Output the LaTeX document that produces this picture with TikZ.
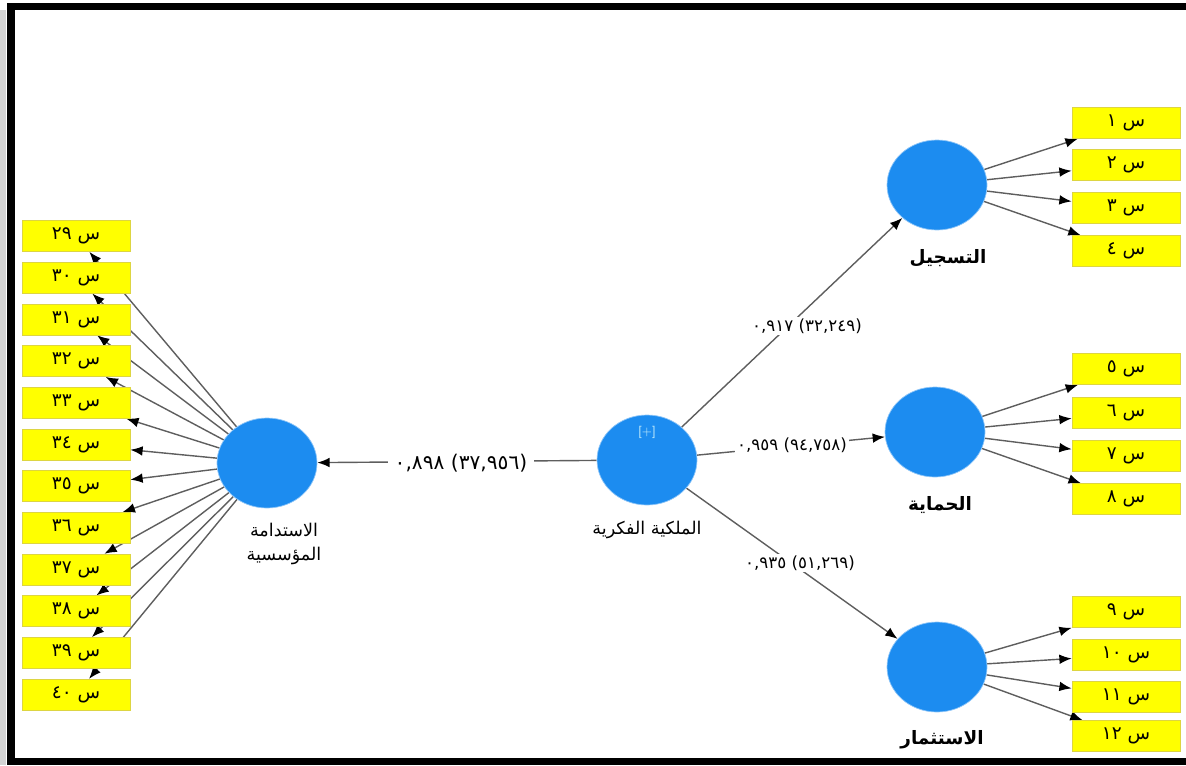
\documentclass[tikz,border=0pt]{standalone}
\usepackage{fontspec}
\newfontfamily\arabicfont[Script=Arabic]{DejaVu Sans}
\newfontfamily\numfont{DejaVu Sans}
\TeXXeTstate=1
\usetikzlibrary{shapes.geometric, arrows.meta, backgrounds}
\definecolor{lvblue}{HTML}{1C8CF0}
\definecolor{indyellow}{HTML}{FFFF00}
\definecolor{linegray}{HTML}{5E5E5E}
\tikzset{
  latent/.style={ellipse, fill=lvblue, draw=lvblue!50, minimum width=2cm, minimum height=1.8cm, inner sep=0pt},
  indicator/.style={rectangle, fill=indyellow, draw=yellow!70!gray, line width=0.4pt, minimum width=2.16cm, minimum height=0.62cm, inner sep=0pt, font=\arabicfont\fontsize{10.5}{12}\selectfont},
  load/.style={draw=linegray, line width=0.8pt, -{Latex[length=7pt, width=5.5pt, color=black]}},
  coef/.style={fill=white, inner sep=1pt, font=\numfont\fontsize{9.5}{11}\selectfont},
  lvname/.style={font=\arabicfont\fontsize{10}{14}\selectfont, align=center},
  lvbold/.style={font=\arabicfont\bfseries\fontsize{10.5}{13}\selectfont}
}

\begin{document}
\begin{tikzpicture}[x=0.02cm, y=-0.02cm]
  \useasboundingbox (0,0) rectangle (1186,765);

  % frame
  \draw[gray!35, line width=3pt] (3,10) -- (3,765);
  \draw[line width=4pt] (1186,6.5) -- (11,6.5) -- (11,761) -- (1186,761);

  % latent variables
  \node[latent] (sus) at (267,463) {};
  \node[latent] (ip)  at (647,460) {};
  \node[latent] (reg) at (937,185) {};
  \node[latent] (pro) at (935,432) {};
  \node[latent] (inv) at (937,667) {};

  \node[font=\sffamily\fontsize{7}{8}\selectfont, text=cyan!25] (ipplus) at (647,432) {[+]};

  \node[lvname] (susname) at (284,544) {\beginR الاستدامة\endR\\\beginR المؤسسية\endR};
  \node[lvname] (ipname)  at (647,530) {\beginR الملكية الفكرية\endR};
  \node[lvbold] (regname) at (948,258) {\beginR التسجيل\endR};
  \node[lvbold] (proname) at (940,505) {\beginR الحماية\endR};
  \node[lvbold] (invname) at (942,740) {\beginR الاستثمار\endR};

  % indicators, left
  \foreach \lab [count=\i from 0] in {٢٩,٣٠,٣١,٣٢,٣٣,٣٤,٣٥,٣٦,٣٧,٣٨,٣٩,٤٠}
    \node[indicator] (q\i) at (76,236+41.7*\i) {\beginR س \lab\endR};

  % indicators, right
  \foreach \lab/\y [count=\i] in {١/123,٢/165,٣/208,٤/251}
    \node[indicator] (r\i) at (1126,\y) {\beginR س \lab\endR};
  \foreach \lab/\y [count=\i] in {٥/369,٦/413,٧/456,٨/499}
    \node[indicator] (p\i) at (1126,\y) {\beginR س \lab\endR};
  \foreach \lab/\y [count=\i] in {٩/612,١٠/655,١١/697,١٢/736}
    \node[indicator] (v\i) at (1126,\y) {\beginR س \lab\endR};

  % path coefficients
  \node[coef, font=\numfont\fontsize{11.5}{13}\selectfont, inner xsep=4pt] (c1) at (461,463) {\beginR\beginL ٠,٨٩٨ (٣٧,٩٥٦)\endL\endR};
  \node[coef] (c2) at (807,326) {\beginR\beginL ٠,٩١٧ (٣٢,٢٤٩)\endL\endR};
  \node[coef] (c3) at (792,445) {\beginR\beginL ٠,٩٥٩ (٩٤,٧٥٨)\endL\endR};
  \node[coef] (c4) at (800,563) {\beginR\beginL ٠,٩٣٥ (٥١,٢٦٩)\endL\endR};

  \begin{scope}[on background layer]
    \draw[load] (ip) -- (sus);
    \draw[load] (ip) -- (reg);
    \draw[load] (ip) -- (pro);
    \draw[load] (ip) -- (inv);
    \foreach \i in {0,...,11}
      \draw[load] (sus) -- (q\i);
    \foreach \i in {1,...,4} {
      \draw[load] (reg) -- (r\i);
      \draw[load] (pro) -- (p\i);
      \draw[load] (inv) -- (v\i);
    }
  \end{scope}
\end{tikzpicture}
\end{document}
